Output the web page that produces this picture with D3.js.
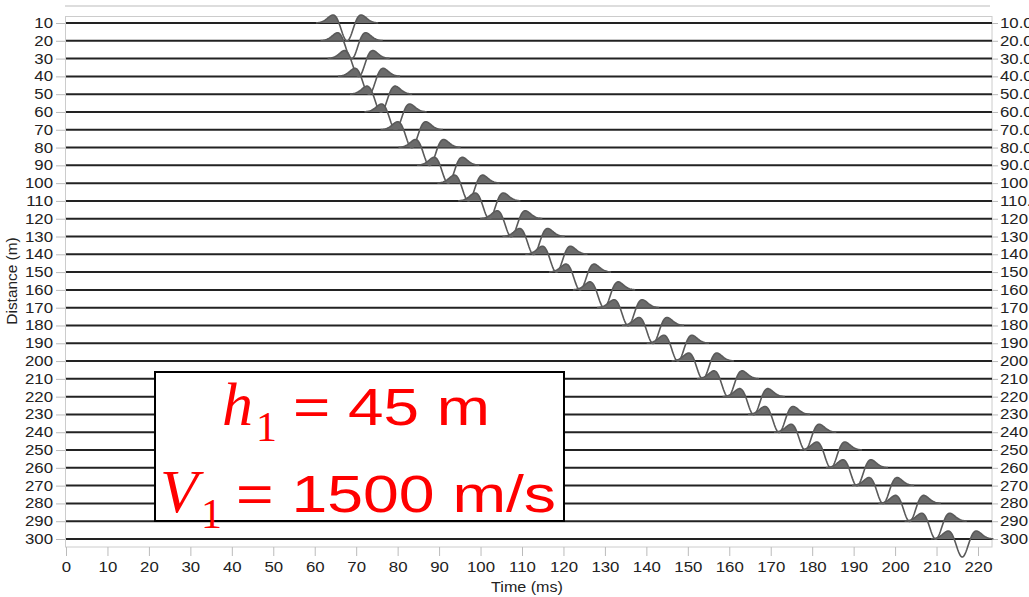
<!DOCTYPE html>
<html>
<head>
<meta charset="utf-8">
<script src="https://cdnjs.cloudflare.com/ajax/libs/d3/7.8.5/d3.min.js"></script>
<style>
  body { margin: 0; background: #fff; }
  svg { display: block; }
</style>
</head>
<body>
<svg width="1029" height="597"></svg>
<script>
// offsets (m) of each trace
var distances = [10, 20, 30, 40, 50, 60, 70, 80, 90, 100, 110, 120, 130, 140, 150,
	160, 170, 180, 190, 200, 210, 220, 230, 240, 250, 260, 270, 280, 290, 300];
// time of the wavelet trough on each trace (ms)
var troughTimes = [67.8, 68.9, 70.6, 73.1, 76.0, 79.5, 83.4, 87.7, 92.2, 97.1,
	102.1, 107.4, 112.8, 118.3, 124.0, 129.8, 135.6, 141.6, 147.6, 153.6,
	159.7, 165.9, 172.0, 178.3, 184.5, 190.8, 197.1, 203.5, 209.8, 216.2];
var timeTicks = [0, 10, 20, 30, 40, 50, 60, 70, 80, 90, 100, 110, 120, 130, 140,
	150, 160, 170, 180, 190, 200, 210, 220];

var svg = d3.select('svg');

var x = d3.scaleLinear().domain([0, 220]).range([66, 978]);
var y = d3.scaleLinear().domain([10, 300]).range([23, 539]);

//stretch text a bit, the reference font is wider than Liberation Sans
function widen(sel, k) {
	sel.each(function(){
		var w = this.getComputedTextLength();
		d3.select(this).attr('textLength', w * k).attr('lengthAdjust', 'spacingAndGlyphs');
	});
}

// faint line above the frame
svg.append('line')
	.attr('x1', 65).attr('x2', 990).attr('y1', 6).attr('y2', 6)
	.attr('stroke', '#ddd').attr('stroke-width', 2);

// plot frame
svg.append('rect')
	.attr('x', 65.5).attr('y', 16.5).attr('width', 926.5).attr('height', 530.5)
	.attr('fill', 'none').attr('stroke', '#ccc');

// axes
var left = svg.append('g').attr('transform', 'translate(65,0)')
	.call(d3.axisLeft(y).tickValues(distances).tickSize(9).tickPadding(3));
var right = svg.append('g').attr('transform', 'translate(992,0)')
	.call(d3.axisRight(y).tickValues(distances).tickFormat(d3.format('.2f')).tickSize(6).tickPadding(2));
var bottom = svg.append('g').attr('transform', 'translate(0,547)')
	.call(d3.axisBottom(x).tickValues(timeTicks).tickSize(9).tickPadding(6));

[left, right, bottom].forEach(function(g){
	g.select('.domain').remove();
	g.selectAll('.tick line').attr('stroke', '#bbb');
	g.selectAll('.tick text')
		.attr('font-family', 'Liberation Sans, Arial, sans-serif')
		.attr('font-size', 14)
		.attr('fill', '#222');
	widen(g.selectAll('.tick text'), 1.2);
});

svg.append('text')
	.attr('x', 527).attr('y', 592)
	.attr('text-anchor', 'middle')
	.attr('font-family', 'Liberation Sans, Arial, sans-serif')
	.attr('font-size', 14).attr('fill', '#222')
	.text('Time (ms)')
	.call(widen, 1.15);

svg.append('text')
	.attr('transform', 'translate(17,281) rotate(-90)')
	.attr('text-anchor', 'middle')
	.attr('font-family', 'Liberation Sans, Arial, sans-serif')
	.attr('font-size', 14).attr('fill', '#222')
	.text('Distance (m)')
	.call(widen, 1.1);

// trace baselines
svg.append('g').selectAll('line')
	.data(distances)
	.enter()
	.append('line')
	.attr('x1', 66).attr('x2', 992)
	.attr('y1', function(d){ return y(d); })
	.attr('y2', function(d){ return y(d); })
	.attr('stroke', '#222')
	.attr('stroke-width', 2);

// wavelet: inverted ricker, trough 18px down, side lobes ~8px up
var ampl = 18;
var a = 0.13;
function wavelet(t) {
	return -ampl * (1 - 2 * a * t * t) * Math.exp(-a * t * t);
}
var offsets = d3.range(-7.5, 7.51, 0.2);

var traces = distances.map(function(d, i){
	return {base: y(d), t0: troughTimes[i]};
});

var line = d3.line()
	.x(function(p){ return x(p.t); })
	.y(function(p){ return p.y; });

var area = d3.area()
	.x(function(p){ return x(p.t); })
	.y0(function(p){ return p.base; })
	.y1(function(p){ return Math.min(p.base, p.y); });

var wig = svg.append('g').selectAll('g')
	.data(traces)
	.enter()
	.append('g');

wig.each(function(d){
	var pts = offsets.map(function(o){
		return {t: d.t0 + o, base: d.base, y: d.base - wavelet(o)};
	});
	var g = d3.select(this);
	g.append('path')
		.attr('d', area(pts))
		.attr('fill', '#6b6b6b')
		.attr('stroke', 'none');
	g.append('path')
		.attr('d', line(pts))
		.attr('fill', 'none')
		.attr('stroke', '#5a5a5a')
		.attr('stroke-width', 1.6);
});

// annotation box
svg.append('rect')
	.attr('x', 155).attr('y', 372).attr('width', 409).attr('height', 149)
	.attr('fill', '#fff').attr('stroke', '#000').attr('stroke-width', 2);

var note = svg.append('g').attr('fill', '#ff0000');
note.append('text').attr('x', 222).attr('y', 425)
	.attr('font-family', 'Liberation Serif, Times New Roman, serif')
	.attr('font-style', 'italic').attr('font-size', 62).text('h');
note.append('text').attr('x', 256).attr('y', 441)
	.attr('font-family', 'Liberation Serif, Times New Roman, serif')
	.attr('font-size', 42).text('1');
note.append('text').attr('x', 293).attr('y', 425)
	.attr('font-family', 'Liberation Sans, Arial, sans-serif')
	.attr('font-size', 52).text('= 45 m')
	.attr('textLength', 197).attr('lengthAdjust', 'spacingAndGlyphs');

note.append('text').attr('x', 160).attr('y', 512)
	.attr('font-family', 'Liberation Serif, Times New Roman, serif')
	.attr('font-style', 'italic').attr('font-size', 62).text('V');
note.append('text').attr('x', 201).attr('y', 528)
	.attr('font-family', 'Liberation Serif, Times New Roman, serif')
	.attr('font-size', 42).text('1');
note.append('text').attr('x', 236).attr('y', 512)
	.attr('font-family', 'Liberation Sans, Arial, sans-serif')
	.attr('font-size', 52).text('= 1500 m/s')
	.attr('textLength', 320).attr('lengthAdjust', 'spacingAndGlyphs');
</script>
</body>
</html>
